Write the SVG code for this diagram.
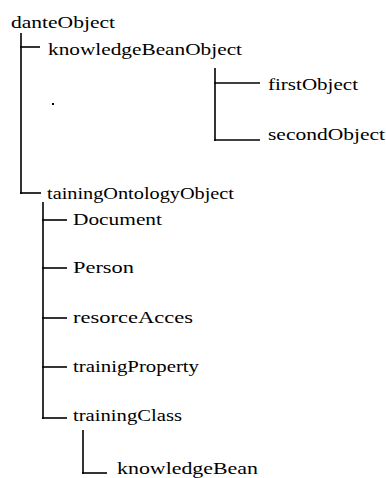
<svg xmlns="http://www.w3.org/2000/svg" width="386" height="478" viewBox="0 0 386 478">
<style>
text{font-family:"Liberation Serif","Times New Roman",serif;font-size:17.5px;fill:#000}
.c line{stroke:#000;stroke-width:1.6}
</style>
<rect width="386" height="478" fill="#fff"/>
<g class="c" id="connectors">
<line x1="21" y1="33" x2="21" y2="194"/>
<line x1="20" y1="47" x2="40" y2="47"/>
<line x1="20" y1="193" x2="41" y2="193"/>
<line x1="215" y1="68" x2="215" y2="141"/>
<line x1="214" y1="83" x2="260" y2="83"/>
<line x1="214" y1="140" x2="260" y2="140"/>
<line x1="43" y1="202" x2="43" y2="419"/>
<line x1="42" y1="220" x2="67" y2="220"/>
<line x1="42" y1="268" x2="67" y2="268"/>
<line x1="42" y1="318" x2="67" y2="318"/>
<line x1="42" y1="367" x2="67" y2="367"/>
<line x1="42" y1="418" x2="67" y2="418"/>
<line x1="83" y1="430" x2="83" y2="474"/>
<line x1="82" y1="473" x2="107" y2="473"/>
</g>
<g id="danteObject"><text x="11" y="28" textLength="104" lengthAdjust="spacingAndGlyphs">danteObject</text></g>
<g id="knowledgeBeanObject"><text x="48" y="55" textLength="194" lengthAdjust="spacingAndGlyphs">knowledgeBeanObject</text></g>
<g id="dot"><rect x="52" y="103" width="2" height="2" fill="#000"/></g>
<g id="firstObject"><text x="268" y="90" textLength="90" lengthAdjust="spacingAndGlyphs">firstObject</text></g>
<g id="secondObject"><text x="268" y="140" textLength="117" lengthAdjust="spacingAndGlyphs">secondObject</text></g>
<g id="tainingOntologyObject"><text x="47" y="199" textLength="187" lengthAdjust="spacingAndGlyphs">tainingOntologyObject</text></g>
<g id="Document"><text x="73" y="225" textLength="89" lengthAdjust="spacingAndGlyphs">Document</text></g>
<g id="Person"><text x="73" y="273" textLength="61" lengthAdjust="spacingAndGlyphs">Person</text></g>
<g id="resorceAcces"><text x="73" y="323" textLength="120" lengthAdjust="spacingAndGlyphs">resorceAcces</text></g>
<g id="trainigProperty"><text x="73" y="372" textLength="126" lengthAdjust="spacingAndGlyphs">trainigProperty</text></g>
<g id="trainingClass"><text x="73" y="421" textLength="109" lengthAdjust="spacingAndGlyphs">trainingClass</text></g>
<g id="knowledgeBean"><text x="117" y="474" textLength="141" lengthAdjust="spacingAndGlyphs">knowledgeBean</text></g>
</svg>
